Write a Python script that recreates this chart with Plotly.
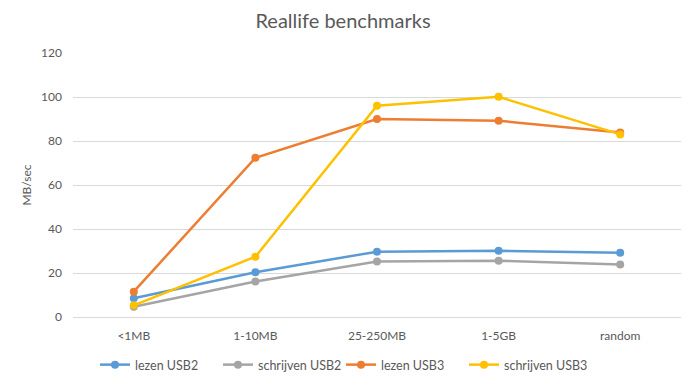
import plotly.graph_objects as go

categories = ["<1MB", "1-10MB", "25-250MB", "1-5GB", "random"]
lezen_usb2 = [8.5, 20.3, 29.7, 30.1, 29.2]
schrijven_usb2 = [4.7, 16.1, 25.2, 25.6, 23.9]
lezen_usb3 = [11.5, 72.4, 90.0, 89.2, 83.9]
schrijven_usb3 = [5.3, 27.4, 96.0, 100.1, 83.0]

series = [
    ("lezen USB2", lezen_usb2, "#5B9BD5"),
    ("schrijven USB2", schrijven_usb2, "#A5A5A5"),
    ("lezen USB3", lezen_usb3, "#ED7D31"),
    ("schrijven USB3", schrijven_usb3, "#FFC000"),
]

fig = go.Figure()
for name, vals, color in series:
    fig.add_trace(go.Scatter(
        x=categories, y=vals, name=name, mode="lines+markers",
        line=dict(color=color, width=2.5),
        marker=dict(color=color, size=8),
    ))

W, H = 686, 378
font_family = "Lato, Liberation Sans, sans-serif"
fig.update_layout(
    width=W, height=H,
    paper_bgcolor="white", plot_bgcolor="white",
    margin=dict(l=65, r=13, t=45, b=69, autoexpand=False),
    font=dict(family=font_family, color="#595959", size=12),
    title=dict(text="Reallife benchmarks", x=335 / W, xanchor="center",
               yref="container", y=1 - 13 / H, yanchor="middle",
               font=dict(size=20, color="#595959")),
    showlegend=True,
    legend=dict(orientation="h", xref="container", x=87 / W, xanchor="left",
                yref="container", y=1 - 357 / H, yanchor="middle",
                font=dict(size=12.5, color="#595959"), itemwidth=30,
                entrywidth=78, traceorder="normal"),
    xaxis=dict(type="category", range=[-0.5, 4.5], showgrid=False, showline=True,
               linecolor="#D9D9D9", linewidth=1, ticks="",
               tickfont=dict(size=12, color="#595959"), ticklabelstandoff=8),
    yaxis=dict(range=[0, 120], dtick=20, showgrid=True, gridcolor="#D9D9D9",
               gridwidth=1, zeroline=False, showline=False, ticks="",
               ticklabelstandoff=10,
               tickfont=dict(size=12, color="#595959"),
               title=dict(text="MB/sec", font=dict(size=12, color="#595959"), standoff=6)),
)

fig.write_html("out.html")
